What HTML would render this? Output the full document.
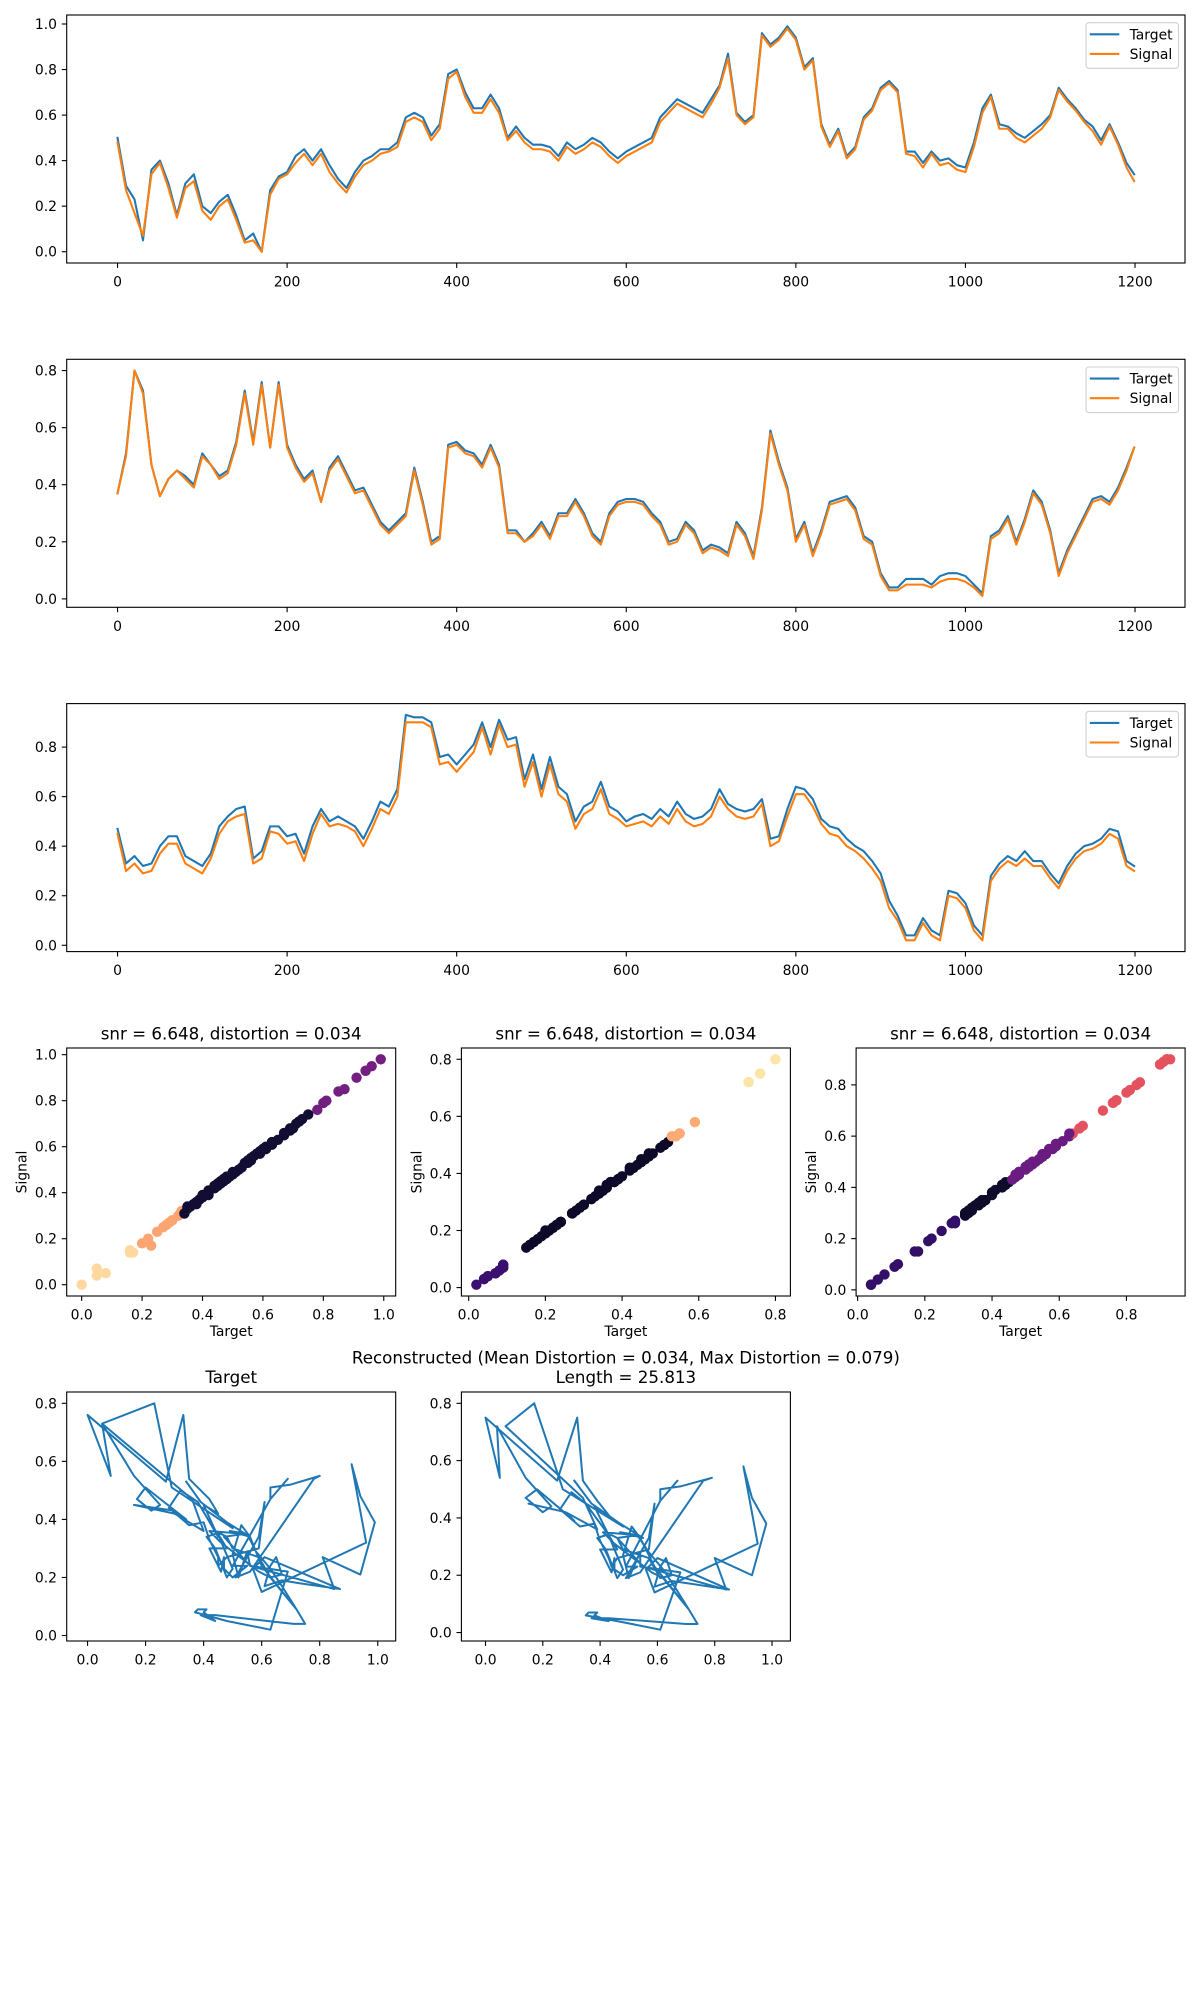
<!DOCTYPE html>
<html><head><meta charset="utf-8"><title>Signal vs Target</title>
<style>
html,body{margin:0;padding:0;background:#fff;}
svg{display:block;font-family:"DejaVu Sans","Liberation Sans",sans-serif;}
</style></head>
<body>
<svg id="fig" width="1200" height="2000" viewBox="0 0 1200 2000" xmlns="http://www.w3.org/2000/svg">
<rect x="0" y="0" width="1200" height="2000" fill="#fff"/>
</svg>
<script>
const timeIdx = [0,10,20,30,40,50,60,70,80,90,100,110,120,130,140,150,160,170,180,190,200,210,220,230,240,250,260,270,280,290,300,310,320,330,340,350,360,370,380,390,400,410,420,430,440,450,460,470,480,490,500,510,520,530,540,550,560,570,580,590,600,610,620,630,640,650,660,670,680,690,700,710,720,730,740,750,760,770,780,790,800,810,820,830,840,850,860,870,880,890,900,910,920,930,940,950,960,970,980,990,1000,1010,1020,1030,1040,1050,1060,1070,1080,1090,1100,1110,1120,1130,1140,1150,1160,1170,1180,1190,1199];
const s1Target = [.50,.29,.23,.05,.36,.40,.30,.16,.30,.34,.20,.17,.22,.25,.16,.05,.08,.00,.27,.33,.35,.42,.45,.40,.45,.38,.32,.28,.35,.40,.42,.45,.45,.48,.59,.61,.59,.51,.56,.78,.80,.70,.63,.63,.69,.63,.50,.55,.50,.47,.47,.46,.42,.48,.45,.47,.50,.48,.44,.41,.44,.46,.48,.50,.59,.63,.67,.65,.63,.61,.67,.73,.87,.61,.57,.60,.96,.91,.94,.99,.94,.81,.85,.56,.47,.54,.42,.46,.59,.63,.72,.75,.71,.44,.44,.39,.44,.40,.41,.38,.37,.48,.63,.69,.56,.55,.52,.50,.53,.56,.60,.72,.67,.63,.58,.55,.49,.56,.48,.39,.34];
const s1Signal = [.48,.27,.17,.07,.34,.39,.28,.15,.28,.31,.18,.14,.20,.23,.14,.04,.05,.00,.25,.32,.34,.39,.43,.38,.43,.35,.30,.26,.33,.38,.40,.43,.44,.46,.57,.59,.57,.49,.54,.76,.79,.68,.61,.61,.67,.61,.49,.53,.48,.45,.45,.44,.40,.46,.43,.45,.48,.46,.42,.39,.42,.44,.46,.48,.57,.61,.65,.63,.61,.59,.65,.72,.85,.60,.56,.59,.95,.90,.93,.98,.93,.80,.84,.55,.46,.53,.41,.45,.58,.62,.71,.74,.70,.43,.42,.37,.43,.38,.39,.36,.35,.46,.61,.68,.54,.54,.50,.48,.51,.54,.59,.71,.66,.62,.57,.53,.47,.55,.47,.37,.31];
const s2Target = [.37,.51,.80,.73,.47,.36,.42,.45,.43,.40,.51,.47,.43,.45,.55,.73,.55,.76,.53,.76,.54,.47,.42,.45,.34,.46,.50,.44,.38,.39,.33,.27,.24,.27,.30,.46,.34,.20,.22,.54,.55,.52,.51,.47,.54,.47,.24,.24,.20,.23,.27,.22,.30,.30,.35,.30,.23,.20,.30,.34,.35,.35,.34,.30,.27,.20,.21,.27,.24,.17,.19,.18,.16,.27,.23,.15,.32,.59,.48,.39,.21,.27,.16,.24,.34,.35,.36,.32,.22,.20,.09,.04,.04,.07,.07,.07,.05,.08,.09,.09,.08,.05,.02,.22,.24,.29,.20,.28,.38,.34,.24,.09,.17,.23,.29,.35,.36,.34,.39,.46,.53];
const s2Signal = [.37,.50,.80,.72,.47,.36,.42,.45,.42,.39,.50,.47,.42,.44,.54,.72,.54,.75,.53,.75,.53,.46,.41,.44,.34,.45,.49,.43,.37,.38,.32,.26,.23,.26,.29,.45,.33,.19,.21,.53,.54,.51,.50,.46,.53,.46,.23,.23,.20,.22,.26,.21,.29,.29,.34,.29,.22,.19,.29,.33,.34,.34,.33,.29,.26,.19,.20,.26,.23,.16,.18,.17,.15,.26,.22,.14,.31,.58,.47,.38,.20,.26,.15,.23,.33,.34,.35,.31,.21,.19,.08,.03,.03,.05,.05,.05,.04,.06,.07,.07,.06,.04,.01,.21,.23,.28,.19,.27,.37,.33,.23,.08,.16,.22,.28,.34,.35,.33,.38,.45,.53];
const s3Target = [.47,.33,.36,.32,.33,.40,.44,.44,.36,.34,.32,.37,.48,.52,.55,.56,.35,.38,.48,.48,.44,.45,.37,.48,.55,.50,.52,.50,.48,.43,.50,.58,.56,.63,.93,.92,.92,.90,.76,.77,.73,.77,.81,.90,.80,.91,.83,.84,.67,.77,.63,.76,.64,.61,.50,.56,.58,.66,.56,.54,.50,.52,.53,.51,.55,.52,.58,.53,.51,.52,.55,.63,.57,.55,.54,.55,.59,.43,.44,.55,.64,.63,.59,.51,.48,.47,.43,.40,.38,.34,.29,.18,.12,.04,.04,.11,.06,.04,.22,.21,.17,.08,.04,.28,.33,.36,.34,.38,.34,.34,.29,.25,.32,.37,.40,.41,.43,.47,.46,.34,.32];
const s3Signal = [.45,.30,.33,.29,.30,.37,.41,.41,.33,.31,.29,.35,.45,.50,.52,.53,.33,.35,.46,.45,.41,.42,.34,.45,.53,.48,.49,.48,.46,.40,.47,.55,.53,.60,.90,.90,.90,.88,.73,.74,.70,.74,.78,.88,.77,.89,.80,.81,.64,.74,.60,.73,.61,.58,.47,.53,.55,.63,.53,.51,.48,.49,.50,.48,.52,.49,.55,.50,.48,.49,.52,.60,.55,.52,.51,.52,.57,.40,.42,.52,.61,.61,.56,.49,.45,.44,.40,.38,.35,.31,.26,.15,.10,.02,.02,.09,.04,.02,.20,.19,.15,.06,.02,.26,.31,.34,.32,.35,.32,.32,.27,.23,.30,.35,.38,.39,.41,.45,.43,.32,.30];
const xTickLabels = ["0","200","400","600","800","1000","1200"];
const unitTickLabels = ["0.0","0.2","0.4","0.6","0.8","1.0"];
const scatterTitle = "snr = 6.648, distortion = 0.034";
const reconTitle1 = "Reconstructed (Mean Distortion = 0.034, Max Distortion = 0.079)";
const reconTitle2 = "Length = 25.813";

const NS = "http://www.w3.org/2000/svg";
const fig = document.getElementById('fig');
const BLUE = "#1f77b4", ORANGE = "#ff7f0e";
const FS = 13.9;

function mk(tag, attrs, parent){
  const e = document.createElementNS(NS, tag);
  for (const k in attrs) e.setAttribute(k, attrs[k]);
  (parent||fig).appendChild(e);
  return e;
}
function txt(s, x, y, anchor, size, parent){
  const t = mk('text', {x:x, y:y, 'text-anchor':anchor, 'font-size':size, fill:'#000'}, parent);
  t.textContent = s;
  return t;
}
function lims(arrs, m){
  let lo = Infinity, hi = -Infinity;
  arrs.forEach(a => a.forEach(v => { if (v<lo) lo=v; if (v>hi) hi=v; }));
  const d = (hi-lo)*(m===undefined?0.05:m);
  return [lo-d, hi+d];
}
let clipN = 0;
function makeAxes(name, box, xl, yl, xticks, xlabels, yticks, ylabels){
  const g = mk('g', {});
  
  
  const sx = v => box.x + (v-xl[0])/(xl[1]-xl[0])*box.w;
  const sy = v => box.y + box.h - (v-yl[0])/(yl[1]-yl[0])*box.h;
  const id = 'clip'+(clipN++);
  const cp = mk('clipPath', {id:id}, g);
  mk('rect', {x:box.x, y:box.y, width:box.w, height:box.h}, cp);
  const plot = mk('g', {'clip-path':'url(#'+id+')'}, g);
  
  
  const xa = mk('g', {}, g);
  
  
  xticks.forEach((v,i) => {
    const px = sx(v);
    if (px < box.x-0.5 || px > box.x+box.w+0.5) return;
    mk('line', {x1:px, x2:px, y1:box.y+box.h, y2:box.y+box.h+4.9, stroke:'#000', 'stroke-width':1.1}, xa);
    const t = txt(xlabels[i], px, box.y+box.h+23.5, 'middle', FS, xa);
    
    
  });
  const ya = mk('g', {}, g);
  
  
  yticks.forEach((v,i) => {
    const py = sy(v);
    if (py < box.y-0.5 || py > box.y+box.h+0.5) return;
    mk('line', {x1:box.x-4.9, x2:box.x, y1:py, y2:py, stroke:'#000', 'stroke-width':1.1}, ya);
    const t = txt(ylabels[i], box.x-9.7, py+5, 'end', FS, ya);
    
    
  });
  return {g, plot, sx, sy, box};
}
function frame(ax){
  const r = mk('rect', {x:ax.box.x, y:ax.box.y, width:ax.box.w, height:ax.box.h, fill:'none', stroke:'#000', 'stroke-width':1.1}, ax.g);
  
  
}
function polyline(ax, xs, ys, color, name){
  const pts = xs.map((x,i) => ax.sx(x).toFixed(2)+','+ax.sy(ys[i]).toFixed(2)).join(' ');
  const p = mk('polyline', {points:pts, fill:'none', stroke:color, 'stroke-width':2.08, 'stroke-linejoin':'round', 'stroke-linecap':'square'}, ax.plot);
  
  
  return p;
}
function legend(ax){
  const x0 = ax.box.x + ax.box.w - 99, y0 = ax.box.y + 7.7;
  const lg = mk('g', {}, ax.g);
  
  
  mk('rect', {x:x0, y:y0, width:92.5, height:45.6, rx:3, fill:'#fff', 'fill-opacity':0.8, stroke:'#d0d0d0', 'stroke-width':1.1}, lg);
  [['Target',BLUE],['Signal',ORANGE]].forEach((e,i) => {
    const eg = mk('g', {}, lg);
    
    
    const yy = y0 + 11.6 + i*19.6;
    mk('line', {x1:x0+3.8, x2:x0+33.3, y1:yy, y2:yy, stroke:e[1], 'stroke-width':2.08}, eg);
    txt(e[0], x0+43.6, yy+5, 'start', FS, eg);
  });
}

// ---- time series ----
const tsSeries = [[s1Target,s1Signal],[s2Target,s2Signal],[s3Target,s3Signal]];
const tsXlim = lims([timeIdx]);
const tsXticks = [0,200,400,600,800,1000,1200];
const unitTicks = [0,0.2,0.4,0.6,0.8,1.0];
tsSeries.forEach((s,k) => {
  const box = {x:66.7, y:15 + k*344.3, w:1118.3, h:248};
  const yl = lims([s[0], s[1]]);
  const ax = makeAxes('timeseries-'+(k+1), box, tsXlim, yl, tsXticks, xTickLabels, unitTicks, unitTickLabels);
  polyline(ax, timeIdx, s[0], BLUE, 'target-line-'+(k+1));
  polyline(ax, timeIdx, s[1], ORANGE, 'signal-line-'+(k+1));
  frame(ax);
  legend(ax);
});

// ---- scatter row ----
const scColors = [
  [[0.2,'#fdd9a0'],[0.34,'#fca572'],[0.76,'#120d33'],[2,'#721f81']],
  [[0.12,'#3b0f70'],[0.53,'#0d0a29'],[0.7,'#feaa74'],[2,'#fde5a7']],
  [[0.3,'#331067'],[0.46,'#0e0b2b'],[0.64,'#6a1c81'],[2,'#e5525f']]
];
const colX = [66.7, 461.4, 856.1];
tsSeries.forEach((s,k) => {
  const box = {x:colX[k], y:1048, w:329, h:248};
  const xl = lims([s[0]]), yl = lims([s[1]]);
  const ax = makeAxes('scatter-'+(k+1), box, xl, yl, unitTicks, unitTickLabels, unitTicks, unitTickLabels);
  s[0].forEach((v,i) => {
    const stops = scColors[k];
    let c = stops[stops.length-1][1];
    for (const st of stops){ if (v < st[0]) { c = st[1]; break; } }
    const dot = mk('circle', {cx:ax.sx(v), cy:ax.sy(s[1][i]), r:5.2, fill:c}, ax.plot);
    
    
  });
  frame(ax);
  const t = txt(scatterTitle, box.x+box.w/2, box.y-8.5, 'middle', 16.7, ax.g);
  
  
  const xlab = txt('Target', box.x+box.w/2, box.y+box.h+40, 'middle', FS, ax.g);
  
  
  const ylab = txt('Signal', 0, 0, 'middle', FS, ax.g);
  ylab.setAttribute('transform', 'translate('+(box.x-40)+','+(box.y+box.h/2)+') rotate(-90)');
  
  
});

// ---- trajectories (equal aspect) ----
const trPairs = [[s1Target,s2Target,'Target'],[s1Signal,s2Signal,null]];
trPairs.forEach((p,k) => {
  const box = {x:colX[k], y:1392, w:329, h:249};
  let xl = lims([p[0]]), yl = lims([p[1]]);
  const kx = box.w/(xl[1]-xl[0]), ky = box.h/(yl[1]-yl[0]);
  if (kx > ky){ const c=(xl[0]+xl[1])/2, half=box.w/ky/2; xl=[c-half,c+half]; }
  else { const c=(yl[0]+yl[1])/2, half=box.h/kx/2; yl=[c-half,c+half]; }
  const ax = makeAxes('trajectory-'+(k+1), box, xl, yl, unitTicks, unitTickLabels, unitTicks, unitTickLabels);
  const pl = polyline(ax, p[0], p[1], BLUE, 'trajectory-path-'+(k+1));
  pl.setAttribute('stroke-width', 2);
  frame(ax);
  if (p[2]){
    const t = txt(p[2], box.x+box.w/2, box.y-9, 'middle', 16.7, ax.g);
    
    
  } else {
    const t1 = txt(reconTitle1, box.x+box.w/2, box.y-28.5, 'middle', 16.7, ax.g);
    
    
    const t2 = txt(reconTitle2, box.x+box.w/2, box.y-9, 'middle', 16.7, ax.g);
    
    
  }
});
</script>
</body></html>
